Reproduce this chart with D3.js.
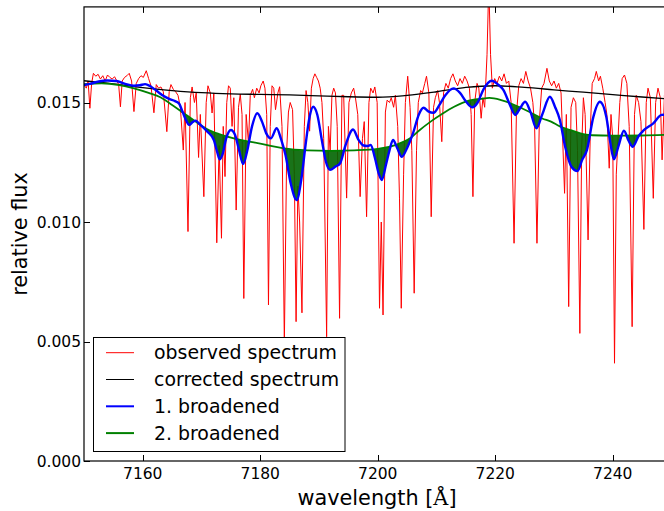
<!DOCTYPE html>
<html><head><meta charset="utf-8">
<script src="https://cdn.jsdelivr.net/npm/d3@7"></script>
<style>body{margin:0;background:#fff}svg{display:block}text{font-family:"DejaVu Sans",sans-serif}</style>
</head><body>
<svg id="c" width="664" height="511"></svg>
<script>
const observed = [
[7150.0,0.01573],[7150.4,0.01560],[7150.7,0.01590],[7151.0,0.01476],[7151.3,0.01580],[7151.6,0.01622],[7152.0,0.01610],[7152.4,0.01618],[7152.8,0.01598],[7153.2,0.01612],[7153.6,0.01590],[7154.0,0.01615],[7154.4,0.01605],[7154.8,0.01598],[7155.2,0.01608],[7155.6,0.01590],[7155.9,0.01575],[7156.2,0.01482],[7156.5,0.01590],[7156.9,0.01605],[7157.3,0.01612],[7157.7,0.01622],[7158.1,0.01590],[7158.5,0.01462],[7158.9,0.01580],[7159.3,0.01600],[7159.7,0.01612],[7160.1,0.01605],[7160.6,0.01633],[7161.0,0.01600],[7161.4,0.01570],[7161.9,0.01457],[7162.3,0.01575],[7162.7,0.01560],[7163.1,0.01565],[7163.5,0.01545],[7164.1,0.01378],[7164.5,0.01545],[7164.8,0.01575],[7165.2,0.01555],[7165.6,0.01545],[7166.0,0.01530],[7166.4,0.01480],[7166.9,0.01301],[7167.2,0.01500],[7167.7,0.00960],[7168.1,0.01520],[7168.4,0.01565],[7168.8,0.01500],[7169.1,0.01540],[7169.5,0.01270],[7169.8,0.01450],[7170.4,0.01106],[7170.8,0.01500],[7171.1,0.01570],[7171.5,0.01540],[7171.8,0.01456],[7172.1,0.01540],[7172.6,0.00913],[7173.0,0.01320],[7173.4,0.00932],[7173.7,0.01400],[7174.0,0.01190],[7174.3,0.01500],[7174.6,0.01570],[7174.9,0.01560],[7175.2,0.01400],[7175.5,0.01520],[7175.9,0.01050],[7176.3,0.01480],[7176.6,0.01535],[7176.9,0.01450],[7177.2,0.00680],[7177.6,0.01450],[7178.0,0.01330],[7178.3,0.01530],[7178.7,0.01555],[7179.0,0.01520],[7179.4,0.01560],[7179.8,0.01540],[7180.1,0.01570],[7180.5,0.01590],[7180.8,0.01560],[7181.1,0.01450],[7181.4,0.00653],[7181.7,0.01400],[7182.0,0.01570],[7182.3,0.01560],[7182.6,0.01470],[7183.0,0.01540],[7183.3,0.01566],[7183.7,0.01400],[7184.1,0.00490],[7184.5,0.01300],[7184.8,0.01460],[7185.1,0.01500],[7185.5,0.01470],[7185.8,0.01200],[7186.1,0.00583],[7186.4,0.01150],[7186.7,0.01000],[7187.1,0.00620],[7187.5,0.01400],[7187.8,0.01550],[7188.1,0.01500],[7188.4,0.01380],[7188.7,0.01560],[7189.0,0.01600],[7189.3,0.01620],[7189.6,0.01605],[7189.9,0.01590],[7190.2,0.01560],[7190.5,0.01500],[7190.8,0.01350],[7191.3,0.00520],[7191.6,0.01400],[7191.9,0.01300],[7192.2,0.01530],[7192.5,0.01560],[7192.8,0.01540],[7193.1,0.01400],[7193.5,0.00597],[7193.9,0.01530],[7194.2,0.01530],[7194.7,0.01100],[7195.1,0.01500],[7195.5,0.01540],[7195.9,0.01560],[7196.2,0.01520],[7196.6,0.01450],[7197.0,0.01106],[7197.4,0.01350],[7197.7,0.01420],[7198.1,0.01022],[7198.5,0.01500],[7198.8,0.01560],[7199.2,0.01540],[7199.5,0.01565],[7199.9,0.01500],[7200.3,0.00639],[7200.6,0.01000],[7200.9,0.00611],[7201.3,0.01460],[7201.6,0.01510],[7202.0,0.01500],[7202.3,0.01520],[7202.7,0.01480],[7203.0,0.01530],[7203.4,0.01400],[7203.7,0.01100],[7204.0,0.00639],[7204.4,0.01200],[7204.7,0.01500],[7205.1,0.01610],[7205.5,0.01480],[7205.8,0.01300],[7206.2,0.00702],[7206.6,0.01300],[7206.9,0.01500],[7207.3,0.01550],[7207.6,0.01540],[7208.0,0.01580],[7208.3,0.01610],[7208.7,0.01540],[7209.1,0.01022],[7209.5,0.01480],[7209.8,0.01520],[7210.2,0.01550],[7210.5,0.01500],[7210.9,0.01336],[7211.2,0.01540],[7211.6,0.01580],[7212.0,0.01560],[7212.4,0.01600],[7212.8,0.01620],[7213.2,0.01590],[7213.6,0.01570],[7214.0,0.01600],[7214.4,0.01580],[7214.8,0.01610],[7215.2,0.01590],[7215.6,0.01560],[7215.9,0.01450],[7216.2,0.01106],[7216.5,0.01500],[7216.9,0.01580],[7217.2,0.01560],[7217.6,0.01434],[7217.9,0.01520],[7218.2,0.01480],[7218.6,0.01700],[7218.9,0.02000],[7219.2,0.01700],[7219.5,0.01560],[7219.9,0.01600],[7220.3,0.01580],[7220.7,0.01610],[7221.1,0.01590],[7221.5,0.01620],[7221.9,0.01580],[7222.3,0.01590],[7222.7,0.01500],[7223.2,0.00911],[7223.6,0.01450],[7224.0,0.01570],[7224.4,0.01600],[7224.8,0.01580],[7225.2,0.01630],[7225.6,0.01590],[7226.0,0.01560],[7226.4,0.01500],[7226.7,0.01400],[7227.1,0.00911],[7227.5,0.01420],[7227.9,0.01560],[7228.3,0.01580],[7228.8,0.01643],[7229.2,0.01590],[7229.6,0.01570],[7230.0,0.01590],[7230.4,0.01560],[7230.8,0.01580],[7231.2,0.01540],[7231.8,0.01120],[7232.1,0.01450],[7232.5,0.00646],[7232.9,0.01480],[7233.3,0.01520],[7233.7,0.01500],[7234.0,0.01300],[7234.4,0.00534],[7234.7,0.01300],[7235.0,0.01520],[7235.3,0.01450],[7235.8,0.00925],[7236.2,0.01400],[7236.5,0.01580],[7236.9,0.01600],[7237.2,0.01630],[7237.6,0.01590],[7237.9,0.01610],[7238.3,0.01560],[7238.7,0.01500],[7239.0,0.01450],[7239.4,0.01225],[7239.7,0.01450],[7240.0,0.01350],[7240.3,0.00409],[7240.6,0.01200],[7240.9,0.01350],[7241.2,0.01500],[7241.6,0.01600],[7242.0,0.01615],[7242.4,0.01580],[7242.8,0.01400],[7243.3,0.00562],[7243.7,0.01450],[7244.0,0.01530],[7244.4,0.01500],[7244.8,0.01420],[7245.3,0.00969],[7245.7,0.01500],[7246.0,0.01560],[7246.4,0.01520],[7246.9,0.01099],[7247.3,0.01500],[7247.7,0.01560],[7248.1,0.01520],[7248.4,0.01260],[7248.8,0.01530],[7249.2,0.01550],[7250.0,0.01540]
];
const corrected = [
[7150,0.01591],[7155,0.01578],[7160,0.01562],[7165,0.01550],[7170,0.01541],[7175,0.01536],[7180,0.01534],[7185,0.01532],[7190,0.01528],[7195,0.01524],[7200,0.01522],[7205,0.01530],[7210,0.01545],[7215,0.01563],[7220,0.01570],[7225,0.01563],[7230,0.01553],[7235,0.01543],[7240,0.01533],[7245,0.01523],[7250,0.01514]
];
const broadened1 = [
[7150.0,0.01573],[7151.0,0.01578],[7152.5,0.01588],[7154.0,0.01592],[7155.5,0.01590],[7157.0,0.01578],[7158.5,0.01570],[7159.5,0.01572],[7160.4,0.01577],[7161.3,0.01568],[7162.3,0.01550],[7163.5,0.01528],[7164.5,0.01515],[7165.5,0.01506],[7166.2,0.01495],[7166.8,0.01460],[7167.3,0.01430],[7167.9,0.01406],[7168.5,0.01418],[7169.0,0.01424],[7169.6,0.01412],[7170.2,0.01398],[7171.0,0.01378],[7172.1,0.01343],[7172.7,0.01290],[7173.1,0.01262],[7173.6,0.01285],[7174.2,0.01350],[7175.0,0.01385],[7175.7,0.01365],[7176.3,0.01310],[7177.1,0.01243],[7177.8,0.01300],[7178.6,0.01400],[7179.5,0.01455],[7180.3,0.01420],[7181.0,0.01372],[7181.8,0.01350],[7182.8,0.01392],[7183.5,0.01350],[7184.3,0.01280],[7185.2,0.01160],[7186.2,0.01092],[7187.0,0.01180],[7187.7,0.01320],[7188.4,0.01440],[7189.0,0.01482],[7189.7,0.01450],[7190.5,0.01340],[7191.2,0.01250],[7191.9,0.01218],[7192.8,0.01232],[7193.6,0.01246],[7194.5,0.01320],[7195.8,0.01387],[7196.7,0.01345],[7197.6,0.01320],[7198.2,0.01318],[7198.8,0.01322],[7199.5,0.01270],[7200.2,0.01200],[7200.7,0.01176],[7201.4,0.01240],[7202.0,0.01300],[7202.6,0.01343],[7203.3,0.01310],[7204.1,0.01273],[7205.0,0.01310],[7206.0,0.01371],[7207.0,0.01450],[7207.8,0.01478],[7208.6,0.01463],[7209.5,0.01457],[7210.5,0.01490],[7211.5,0.01530],[7212.9,0.01559],[7214.0,0.01540],[7215.0,0.01505],[7216.1,0.01480],[7217.0,0.01500],[7218.0,0.01555],[7219.4,0.01591],[7220.5,0.01575],[7221.4,0.01552],[7222.5,0.01490],[7223.4,0.01448],[7224.2,0.01475],[7225.1,0.01503],[7226.0,0.01460],[7227.0,0.01392],[7228.0,0.01450],[7229.3,0.01524],[7230.2,0.01480],[7231.0,0.01427],[7231.9,0.01315],[7233.0,0.01230],[7234.0,0.01213],[7234.8,0.01260],[7235.6,0.01301],[7236.7,0.01440],[7237.8,0.01503],[7238.9,0.01440],[7239.6,0.01330],[7240.2,0.01262],[7241.0,0.01320],[7241.9,0.01382],[7242.7,0.01340],[7243.4,0.01315],[7244.4,0.01360],[7245.2,0.01382],[7246.9,0.01413],[7248.3,0.01448],[7249.5,0.01450]
];
const broadened2 = [
[7150,0.01577],[7153,0.01580],[7156,0.01573],[7158.5,0.01559],[7161,0.01540],[7163,0.01522],[7165,0.01490],[7167,0.01455],[7169,0.01420],[7171,0.01388],[7173,0.01368],[7175.5,0.01350],[7178,0.01337],[7180,0.01328],[7182,0.01317],[7184,0.01308],[7188,0.01300],[7192,0.01298],[7196,0.01300],[7200,0.01306],[7203,0.01322],[7205.5,0.01350],[7207,0.01382],[7209,0.01420],[7211,0.01453],[7213,0.01482],[7215.5,0.01508],[7217.5,0.01515],[7219,0.01519],[7221,0.01510],[7222.5,0.01498],[7224,0.01482],[7226,0.01458],[7228,0.01433],[7229.5,0.01420],[7231,0.01400],[7233,0.01383],[7235,0.01368],[7236.5,0.01363],[7240,0.01361],[7245,0.01362],[7249.5,0.01365]
];
const xTicks = [7160, 7180, 7200, 7220, 7240];
const yTicks = [0.000, 0.005, 0.010, 0.015];
const legendLabels = ["observed spectrum", "corrected spectrum", "1. broadened", "2. broadened"];
const legendColors = ["#ff0000", "#000000", "#0000ff", "#008000"];

const svg = d3.select("#c");
const L = 84, R = 671.5, T = 6.9, B = 461;
const x = d3.scaleLinear().domain([7150, 7250]).range([L, R]);
const y = d3.scaleLinear().domain([0, 0.019]).range([B, T]);

const defs = svg.append("defs");
defs.append("clipPath").attr("id", "plot").append("rect")
  .attr("x", L).attr("y", T).attr("width", R - L).attr("height", B - T);
defs.append("clipPath").attr("id", "aboveBlue").append("path")
  .attr("d", d3.area().x(d => x(d[0])).y0(y(0.019)).y1(d => y(d[1])).curve(d3.curveMonotoneX)(broadened1));

const g = svg.append("g").attr("clip-path", "url(#plot)");
const lin = d3.line().x(d => x(d[0])).y(d => y(d[1]));
const smooth = d3.line().x(d => x(d[0])).y(d => y(d[1])).curve(d3.curveMonotoneX);

g.append("path").attr("d", lin(observed)).attr("fill", "none").attr("stroke", "#ff0000").attr("stroke-width", 1);
g.append("path").attr("d", smooth(corrected)).attr("fill", "none").attr("stroke", "#000").attr("stroke-width", 1.3);
// fill between curves where broadened1 < broadened2
g.append("g").attr("clip-path", "url(#aboveBlue)").append("path")
  .attr("d", d3.area().x(d => x(d[0])).y0(y(0)).y1(d => y(d[1])).curve(d3.curveMonotoneX)(broadened2))
  .attr("fill", "#006400").attr("fill-opacity", 0.9);
g.append("path").attr("d", smooth(broadened2)).attr("fill", "none").attr("stroke", "#008000").attr("stroke-width", 1.8);
g.append("path").attr("d", smooth(broadened1)).attr("fill", "none").attr("stroke", "#0000ff").attr("stroke-width", 2.4);

// spines
svg.append("rect").attr("x", L).attr("y", T).attr("width", R - L).attr("height", B - T)
  .attr("fill", "none").attr("stroke", "#000").attr("stroke-width", 1.2);

// ticks
const tl = 6;
xTicks.forEach(t => {
  const px = Math.round(x(t)) + 0.5;
  svg.append("line").attr("x1", px).attr("x2", px).attr("y1", B).attr("y2", B - tl).attr("stroke", "#000");
  svg.append("line").attr("x1", px).attr("x2", px).attr("y1", T).attr("y2", T + tl).attr("stroke", "#000");
  svg.append("text").attr("x", x(t)).attr("y", 479).attr("text-anchor", "middle")
    .attr("font-size", "15.5px").text(t);
});
yTicks.forEach(t => {
  const py = Math.round(y(t)) + 0.5;
  svg.append("line").attr("x1", L).attr("x2", L + tl).attr("y1", py).attr("y2", py).attr("stroke", "#000");
  svg.append("text").attr("x", 81).attr("y", y(t) + 5.5).attr("text-anchor", "end")
    .attr("font-size", "15.5px").text(t.toFixed(3));
});

// axis labels
const xl = svg.append("text").attr("x", 377).attr("y", 505).attr("text-anchor", "middle").attr("font-size", "20.8px");
xl.append("tspan").text("wavelength [");
xl.append("tspan").attr("font-family", "DejaVu Serif, serif").text("Å");
xl.append("tspan").text("]");
svg.append("text").attr("transform", "translate(27,234) rotate(-90)").attr("text-anchor", "middle")
  .attr("font-size", "20.8px").text("relative flux");

// legend
const lg = svg.append("g");
lg.append("rect").attr("x", 93.5).attr("y", 337.5).attr("width", 251.5).attr("height", 114)
  .attr("fill", "#fff").attr("stroke", "#000").attr("stroke-width", 1);
legendLabels.forEach((s, i) => {
  const cy = 352.7 + i * 26.8;
  lg.append("line").attr("x1", 106).attr("x2", 134).attr("y1", cy).attr("y2", cy)
    .attr("stroke", legendColors[i]).attr("stroke-width", i >= 2 ? 2 : 1);
  lg.append("text").attr("x", 154).attr("y", cy + 6.5).attr("font-size", "18.9px").text(s);
});
</script>
</body></html>
